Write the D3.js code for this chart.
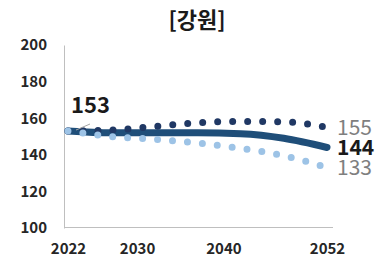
<!DOCTYPE html>
<html>
<head>
  <meta charset="utf-8">
  <script src="https://cdn.jsdelivr.net/npm/d3@7"></script>
  <style>
    body { margin: 0; background: #fff; }
    text { font-family: "Noto Sans CJK KR", "Noto Sans", sans-serif; }
    text.title { font-size: 22px; font-weight: 700; fill: #1a1a1a; }
    .tick text { font-size: 15px; font-weight: 700; fill: #262626; }
    text.endLabel { font-size: 21px; }
  </style>
</head>
<body>
  <svg width="382" height="270"></svg>
  <script>
    // data
    const years = [2022, 2027, 2032, 2037, 2042, 2047, 2052];
    const median = [153, 152, 152, 152, 151.5, 149, 144];
    const high = [153, 153.5, 155.5, 157.5, 158.2, 158, 155];
    const low = [153, 150, 148.5, 146.5, 143.5, 139.5, 133];
    const yTicks = [100, 120, 140, 160, 180, 200];
    const xTicks = [2022, 2030, 2040, 2052];
    const title = "[강원]";

    const svg = d3.select("svg");

    const x = d3.scaleLinear().domain([2022, 2052]).range([68, 327]);
    const y = d3.scaleLinear().domain([100, 200]).range([228, 45]);

    svg.append("text")
      .attr("class", "title")
      .attr("x", 197)
      .attr("y", 28)
      .style("text-anchor", "middle")
      .text(title);

    // y axis
    const yAxis = d3.axisLeft(y)
      .tickValues(yTicks)
      .tickSize(0)
      .tickPadding(17);
    const gy = svg.append("g")
      .attr("transform", "translate(64,0)")
      .call(yAxis);
    gy.select(".domain").attr("stroke", "#bfbfbf").attr("stroke-width", 1);

    // x axis
    const xAxis = d3.axisBottom(x)
      .tickValues(xTicks)
      .tickFormat(d3.format("d"))
      .tickSize(0)
      .tickPadding(15);
    const gx = svg.append("g")
      .attr("transform", `translate(0,${y(100)})`)
      .call(xAxis);
    gx.select(".domain").remove();
    svg.append("line")
      .attr("x1", 64).attr("x2", 333)
      .attr("y1", y(100) - 0.5).attr("y2", y(100) - 0.5)
      .attr("stroke", "#bfbfbf");

    const line = d3.line()
      .x((d, i) => x(years[i]))
      .y(d => y(d))
      .curve(d3.curveMonotoneX);

    // median (thick solid)
    svg.append("path")
      .attr("d", line(median))
      .attr("fill", "none")
      .attr("stroke", "#1f4e79")
      .attr("stroke-width", 7)
      .attr("stroke-linecap", "round");

    // high (dark round dots)
    svg.append("path")
      .attr("d", line(high))
      .attr("fill", "none")
      .attr("stroke", "#203864")
      .attr("stroke-width", 7)
      .attr("stroke-linecap", "round")
      .attr("stroke-dasharray", "0 15");

    // low (light round dots)
    svg.append("path")
      .attr("d", line(low))
      .attr("fill", "none")
      .attr("stroke", "#9dc3e6")
      .attr("stroke-width", 7)
      .attr("stroke-linecap", "round")
      .attr("stroke-dasharray", "0 15");

    // start label with leader line
    svg.append("line")
      .attr("x1", 76).attr("y1", y(median[0]) - 1)
      .attr("x2", 90).attr("y2", y(median[0]) - 7)
      .attr("stroke", "#a6a6a6")
      .attr("stroke-width", 1);
    svg.append("text")
      .attr("x", 71)
      .attr("y", y(median[0]) - 18)
      .style("font-size", "22px")
      .style("font-weight", 700)
      .attr("fill", "#1a1a1a")
      .text(median[0]);

    // end labels
    const ends = [
      { v: high[high.length - 1], c: "#7f7f7f", w: 400 },
      { v: median[median.length - 1], c: "#1a1a1a", w: 700 },
      { v: low[low.length - 1], c: "#7f7f7f", w: 400 }
    ];
    svg.selectAll("text.endLabel")
      .data(ends)
      .enter()
      .append("text")
      .attr("class", "endLabel")
      .attr("x", 337)
      .attr("y", d => y(d.v))
      .attr("dy", "0.36em")
      .attr("fill", d => d.c)
      .style("font-weight", d => d.w)
      .text(d => d.v);
  </script>
</body>
</html>
